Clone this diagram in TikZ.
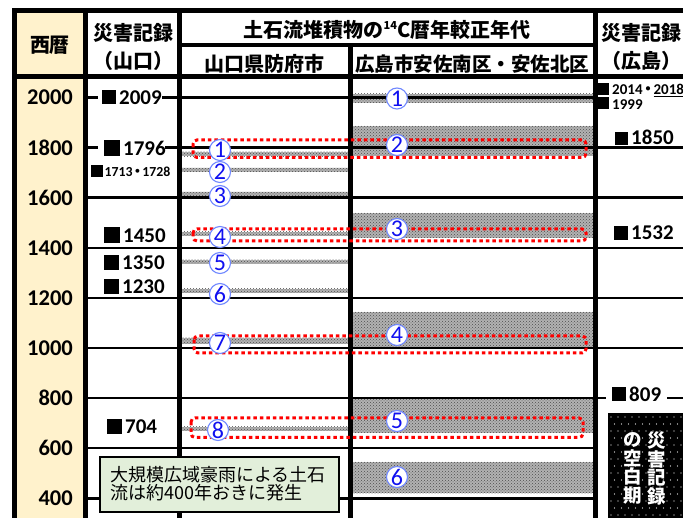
\documentclass[tikz,border=0pt]{standalone}
\usepackage{fontspec}
\setmainfont{Carlito}
\newfontfamily\jp{Noto Sans CJK JP}
\usetikzlibrary{patterns}
\newcommand\fs[1]{\fontsize{#1}{#1}\selectfont}
\newcommand\sq[1]{\rule{#1pt}{#1pt}\hspace{3pt}}
\definecolor{beige}{HTML}{FFF2CC}
\definecolor{notegreen}{HTML}{E2EFDA}
\definecolor{cnblue}{HTML}{1010F0}
\definecolor{cnedge}{HTML}{7088FF}
\begin{document}
\begin{tikzpicture}[x=1pt,y=-1pt,
  fr/.style={line width=5},
  gl/.style={line width=2.4},
  yr/.style={font=\bfseries\fs{22.5},anchor=east,inner sep=0},
  lab/.style={font=\bfseries\fs{21},anchor=base west,inner sep=0},
  slab/.style={font=\bfseries\fs{13.8},anchor=base west,inner sep=0},
  hd/.style={font=\jp\bfseries\fs{20},inner sep=0},
  cn/.style={circle,draw=cnedge,fill=white,line width=1.1,minimum size=21,inner sep=0,text=cnblue,font=\fs{24}},
  band/.style={fill=black!30,postaction={pattern=crosshatch dots,pattern color=black!70}},
  rbox/.style={draw=red,line width=3,dash pattern=on 3.5 off 3,rounded corners=4},
  notebox/.style={draw,line width=2.2,fill=notegreen,inner sep=0},
]
\useasboundingbox (0,0) rectangle (683,518);
\clip (0,0) rectangle (683,518);
% beige year column
\fill[beige] (14.5,11) rectangle (85.5,530);
% bands, Yamaguchi Hofu
\foreach \c/\h in {154/4.5,169.7/4,193.7/4,234/4,261.7/4,290.7/4,341/6,428.7/4}
  \path[band] (182,\c-\h/2) rectangle (348,\c+\h/2);
% bands, Hiroshima
\foreach \a/\b in {94/103,126/156,213/238,312/349,398/433,462/493}
  \path[band] (353,\a) rectangle (593,\b);
% grid lines
\foreach \Y in {2000,1800,...,400}{
  \pgfmathsetmacro\yy{97.5+(2000-\Y)*0.2505}
  \draw[gl] (182,\yy) -- (593,\yy);
}
\foreach \Y in {1600,1400,...,400}{
  \pgfmathsetmacro\yy{97.5+(2000-\Y)*0.2505}
  \draw[gl] (88,\yy) -- (177,\yy);
}
\draw[gl] (88,97.5) -- (98,97.5) (162,97.5) -- (177,97.5);
\draw[gl] (88,147.6) -- (98,147.6) (165,147.6) -- (177,147.6);
\foreach \Y in {1800,1600,...,1000}{
  \pgfmathsetmacro\yy{97.5+(2000-\Y)*0.2505}
  \draw[gl] (598,\yy) -- (690,\yy);
}
\draw[gl] (598,398.1) -- (606,398.1) (667,398.1) -- (690,398.1);
% frame
\draw[fr] (14.5,8.5) -- (14.5,530);
\draw[fr] (12,11) -- (700,11);
\draw[fr] (85.5,11) -- (85.5,530);
\draw[fr] (179.5,11) -- (179.5,530);
\draw[line width=4.5] (350.5,45) -- (350.5,530);
\draw[fr] (595.5,11) -- (595.5,530);
\draw[line width=4.5] (12,76.5) -- (700,76.5);
\draw[line width=3.5] (179.5,45) -- (595.5,45);
% header texts
\node[hd] (h0) at (50,45) {西暦};
\node[hd] (h1a) at (133,33) {災害記録};
\node[hd] (h1b) at (133,61) {（山口）};
\node[hd] (h2) at (387,30) {土石流堆積物の\raisebox{0.38em}{\fs{11}14}C暦年較正年代};
\node[hd] (h3) at (264,64) {山口県防府市};
\node[hd,font=\jp\bfseries\fs{19.5}] (h4) at (472,64) {広島市安佐南区・安佐北区};
\node[hd] (h5a) at (641,33) {災害記録};
\node[hd] (h5b) at (641,61) {（広島）};
% year labels
\foreach \Y in {2000,1800,...,400}{
  \pgfmathsetmacro\yy{97.5+(2000-\Y)*0.2505}
  \node[yr] (y\Y) at (73,\yy) {\Y};
}
% red boxes
\draw[rbox] (193,140) rectangle (586,157.5);
\draw[rbox] (193,229) rectangle (586,241);
\draw[rbox] (194,336) rectangle (586,353);
\draw[rbox] (191,418) rectangle (583,437.5);
% circled numbers
\node[cn] (a1) at (220,150) {1};
\node[cn] (a2) at (220,172) {2};
\node[cn] (a3) at (220,196) {3};
\node[cn] (a4) at (220,237) {4};
\node[cn] (a5) at (220,263) {5};
\node[cn] (a6) at (220,294) {6};
\node[cn] (a7) at (220,343) {7};
\node[cn] (a8) at (218,430) {8};
\node[cn] (b1) at (397,98.5) {1};
\node[cn] (b2) at (397,145) {2};
\node[cn] (b3) at (397,229) {3};
\node[cn] (b4) at (397,335) {4};
\node[cn] (b5) at (397,421) {5};
\node[cn] (b6) at (397,477) {6};
% disaster records Yamaguchi
\node[lab] (r2009) at (102,104.5) {\sq{14}2009};
\node[lab] (r1796) at (104,156) {\sq{16}1796};
\node[slab] (r1713) at (91,176.7) {\sq{11.5}\hspace{-1pt}1713\hspace{-2pt}{\jp ・}\hspace{-2pt}1728};
\node[lab] (r1450) at (104,243) {\sq{16}1450};
\node[lab] (r1350) at (104,270) {\sq{15}1350};
\node[lab] (r1230) at (104,294) {\sq{15}1230};
\node[lab] (r704) at (107,434) {\sq{15}704};
% disaster records Hiroshima
\node[slab,font=\bfseries\fs{15}] (r2014) at (597,95) {\sq{12}2014\hspace{-2pt}{\jp ・}\hspace{-2pt}\underline{2018}};
\node[slab,font=\bfseries\fs{15}] (r1999) at (597,109.3) {\sq{12}1999};
\node[lab] (r1850) at (615,145) {\sq{13}1850};
\node[lab] (r1532) at (614,240) {\sq{14}1532};
\node[lab] (r809) at (612,401.5) {\sq{14}809};
% note box
\node[notebox,anchor=north west,minimum width=239,minimum height=55] (note) at (99,456) {};
\node[anchor=west,align=left,inner sep=0,font=\jp\fs{18}] (notet) at (110,483.7)
  {\fontsize{18}{20.5}\selectfont 大規模広域豪雨による土石\\流は約400年おきに発生};
% blank period box
\fill[black] (608,413) rectangle (690,530);
\foreach \i in {0,...,11}
  \foreach \j in {0,...,16}
    \fill[white] ({611+\i*7+mod(\j,2)*3.5},{417+\j*7}) circle (0.6);
\node[align=center,inner sep=0,text=white,font=\jp\bfseries\fs{18.5}] (blank1) at (657,468.5)
  {\fontsize{18.5}{22.3}\selectfont 災\\害\\記\\録};
\node[align=center,inner sep=0,text=white,font=\jp\bfseries\fs{18.5}] (blank2) at (633,468.5)
  {\fontsize{18.5}{22.3}\selectfont の\\空\\白\\期};
\end{tikzpicture}
\end{document}
